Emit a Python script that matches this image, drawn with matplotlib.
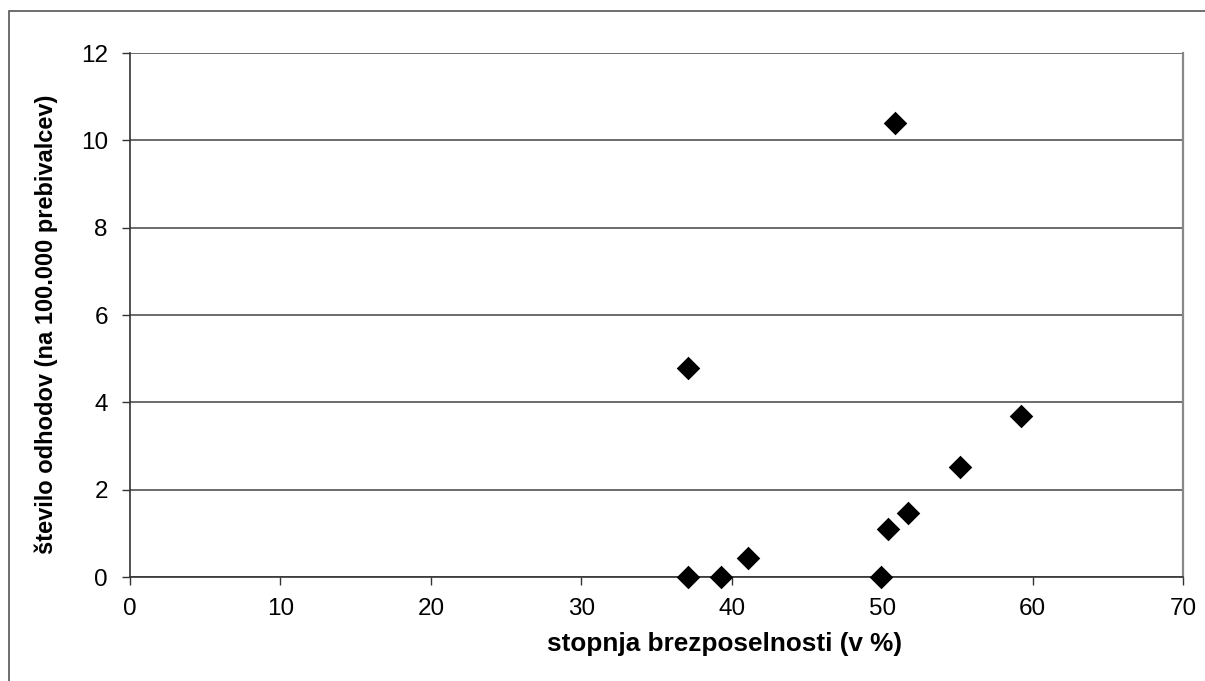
import matplotlib.pyplot as plt
from matplotlib.patches import Rectangle

# unemployment rate (%) vs. departures per 100,000 inhabitants
unemployment = [37.1, 37.1, 39.3, 41.1, 49.9, 50.4, 51.7, 50.85, 55.15, 59.25]
departures = [4.79, 0.0, 0.0, 0.43, 0.0, 1.11, 1.47, 10.39, 2.51, 3.68]

x_ticks = [0, 10, 20, 30, 40, 50, 60, 70]
y_ticks = [0, 2, 4, 6, 8, 10, 12]

plt.rcParams['font.family'] = ['Liberation Sans', 'DejaVu Sans']

fig = plt.figure(figsize=(12.05, 6.81), dpi=100)
ax = fig.add_axes([130 / 1205, 1 - 577 / 681, (1183 - 130) / 1205, (577 - 53) / 681])

# outer chart border (right and bottom edges fall outside the image)
fig.patches.append(Rectangle((9 / 1205, -0.05), 1.2, (681 - 11.5) / 681 + 0.05,
                             transform=fig.transFigure, fill=False,
                             edgecolor='#555555', linewidth=1.2))

ax.scatter(unemployment, departures, marker='D', s=12 ** 2, color='black',
           zorder=3, clip_on=False, linewidths=0)

ax.set_xlim(0, 70)
ax.set_ylim(0, 12)
ax.set_xticks(x_ticks)
ax.set_yticks(y_ticks)
ax.yaxis.grid(True, color='#444444', linewidth=1.1)
ax.set_axisbelow(True)

ax.spines['top'].set_visible(False)
ax.spines['right'].set_color('#888888')
ax.spines['right'].set_linewidth(1.6)
for side in ['left', 'bottom']:
    ax.spines[side].set_color('#333333')
    ax.spines[side].set_linewidth(1.2)

ax.tick_params(axis='both', direction='out', length=6, width=1,
               labelsize=17.5, color='#333333')
ax.tick_params(axis='x', pad=9)
ax.tick_params(axis='y', pad=10)

ax.set_xlabel('stopnja brezposelnosti (v %)', fontsize=18.8, fontweight='bold')
ax.xaxis.set_label_coords(0.565, -0.105)
ax.set_ylabel('število odhodov (na 100.000 prebivalcev)', fontsize=17,
              fontweight='bold')
ax.yaxis.set_label_coords(-0.068, 0.483)

fig.savefig('out.png', dpi=100)
